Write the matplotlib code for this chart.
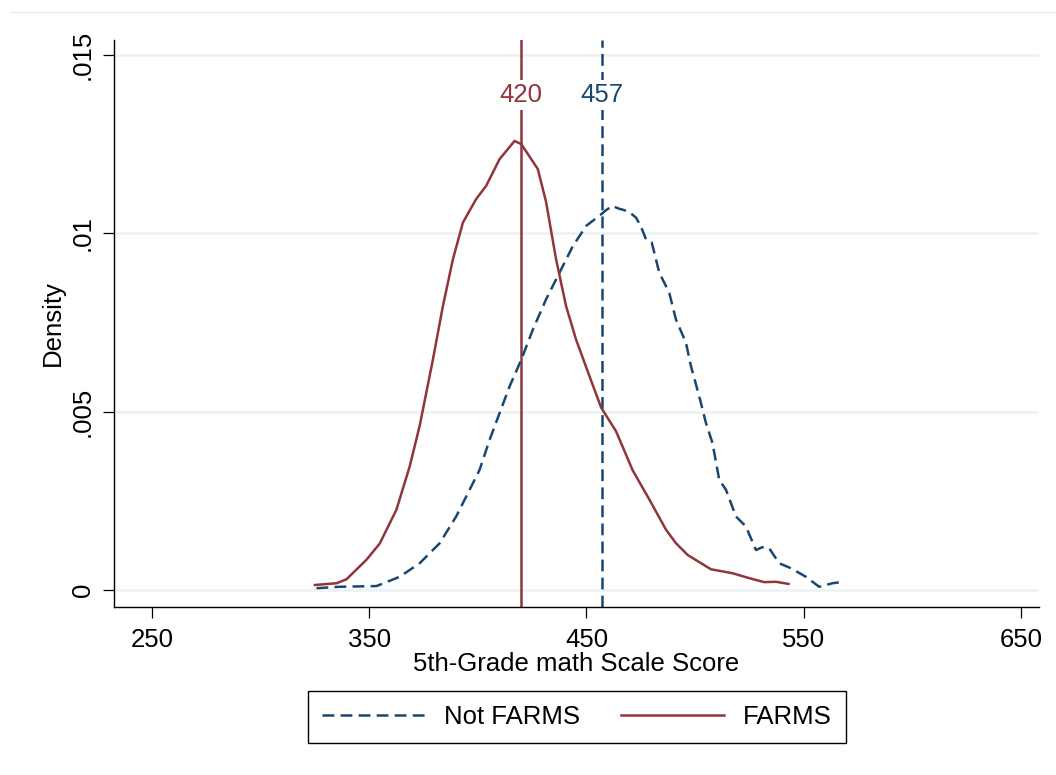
import numpy as np
import matplotlib
matplotlib.use("Agg")
from matplotlib import pyplot as plt
from matplotlib.lines import Line2D

plt.rcParams["font.family"] = ["Liberation Sans", "DejaVu Sans"]
plt.rcParams["lines.scale_dashes"] = False

NAVY = "#1a476f"
MAROON = "#90353b"
GRID = "#eaf2f3"
FS = 18.5

# kernel density of scale scores, FARMS students
farms_x = [325, 335, 339.5, 348.6, 354.8, 362.5, 368.6, 373.2, 379.3, 383.9,
           388.5, 393.1, 399.2, 403.8, 410, 416.9, 420, 427.6, 431.4, 436,
           440.6, 445.2, 451.4, 456.7, 463.6, 471.3, 479, 486.6, 491.2, 496.6,
           507.3, 517.2, 525, 531.8, 537.2, 543]
farms_y = [0.00014, 0.00019, 0.0003, 0.00084, 0.0013, 0.00225, 0.00346, 0.0046, 0.00646, 0.00796,
           0.00927, 0.0103, 0.01096, 0.01133, 0.01208, 0.01259, 0.0125, 0.0118, 0.01088, 0.00927,
           0.00796, 0.00702, 0.00599, 0.00512, 0.00445, 0.00335, 0.00253, 0.00169, 0.00131, 0.00098,
           0.00058, 0.00047, 0.00033, 0.00022, 0.00023, 0.00017]

# kernel density of scale scores, non-FARMS students
notfarms_x = [325.7, 336.4, 353.3, 364, 373.2, 382.4, 390, 396.2, 400.8, 405.4,
              410, 414.6, 420, 425.3, 431.4, 437.6, 443.7, 449.9, 456.7, 459,
              462, 464.5, 467.4, 470, 472.8, 475, 477.4, 480, 483.5, 488.1,
              491.2, 495.8, 498.1, 501.9, 505, 508, 511.1, 514.2, 518.8, 523.4,
              528, 531, 534.1, 538.7, 544.1, 551, 557.1, 563.3, 568.6]
notfarms_y = [0.00005, 0.00009, 0.00011, 0.00037, 0.00075, 0.00131, 0.00206, 0.00281, 0.00337, 0.00421,
              0.00496, 0.00571, 0.00646, 0.0073, 0.00815, 0.0089, 0.00964, 0.01021, 0.01053, 0.01065,
              0.01077, 0.0107, 0.01065, 0.01058, 0.01044, 0.0102, 0.00983, 0.00975, 0.0089, 0.00833,
              0.00758, 0.00693, 0.00627, 0.00543, 0.00468, 0.00412, 0.00309, 0.00281, 0.00206, 0.00178,
              0.00112, 0.0012, 0.00117, 0.00075, 0.00061, 0.00037, 0.00009, 0.00019, 0.00023]

farms_mean = 420
notfarms_mean = 457

x_ticks = [250, 350, 450, 550, 650]
y_ticks = [0, 0.005, 0.01, 0.015]
y_tick_labels = ["0", ".005", ".01", ".015"]

DASH = (0, (8.5, 4.5))
LW = 1.8

fig = plt.figure(figsize=(10.56, 7.75), dpi=100)
ax = fig.add_axes([114 / 1056, 1 - 607 / 775, 925 / 1056, 567 / 775])

ax.set_xlim(232.5, 658.3)
ax.set_ylim(-0.000477, 0.01542)

for t in y_ticks:
    ax.axhline(t, color=GRID, lw=1.8, zorder=0)

ax.axvline(farms_mean, color=MAROON, lw=LW, zorder=2)
ax.axvline(notfarms_mean, color=NAVY, lw=LW, linestyle=DASH, zorder=2)

ax.plot(notfarms_x, notfarms_y, color=NAVY, lw=LW, linestyle=DASH, zorder=3)
ax.plot(farms_x, farms_y, color=MAROON, lw=LW, zorder=3)

for val, col in [(farms_mean, MAROON), (notfarms_mean, NAVY)]:
    ax.text(val, 0.01388, str(val), ha="center", va="center", color=col, fontsize=FS,
            bbox=dict(facecolor="white", edgecolor="none", pad=2), zorder=4)

for side in ["top", "right"]:
    ax.spines[side].set_visible(False)
for side in ["left", "bottom"]:
    ax.spines[side].set_linewidth(1.0)

ax.set_xticks(x_ticks)
ax.set_yticks(y_ticks)
ax.set_yticklabels(y_tick_labels)
ax.tick_params(axis="both", length=8, width=0.9, labelsize=FS, pad=7)
ax.tick_params(axis="y", labelrotation=90, pad=6)
for lab in ax.get_yticklabels():
    lab.set_va("center")

ax.set_xlabel("5th-Grade math Scale Score", fontsize=FS, labelpad=0)
ax.set_ylabel("Density", fontsize=FS, labelpad=4)

handles = [Line2D([], [], color=NAVY, lw=LW, linestyle=DASH),
           Line2D([], [], color=MAROON, lw=LW)]
leg = fig.legend(handles, ["Not FARMS", "FARMS"], loc="center",
                 bbox_to_anchor=(577 / 1056, 1 - 717 / 775), ncol=2, fontsize=FS,
                 handlelength=4.0, handletextpad=0.75, columnspacing=1.6,
                 borderpad=0.55, fancybox=False, framealpha=1, edgecolor="black")
leg.get_frame().set_linewidth(1.0)

# faint outer border along the top of the graph region
fig.add_artist(Line2D([10 / 1056, 1.0], [1 - 12 / 775, 1 - 12 / 775],
                      color="#ececec", lw=1.0, transform=fig.transFigure))

fig.savefig("out.png", dpi=100, facecolor="white")
